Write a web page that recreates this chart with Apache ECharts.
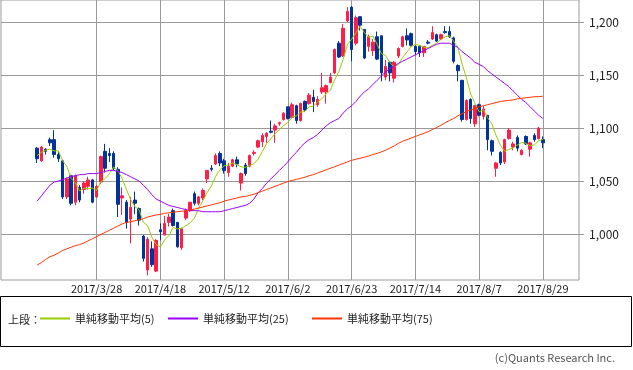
<!DOCTYPE html>
<html><head><meta charset="utf-8">
<script src="https://cdn.jsdelivr.net/npm/echarts@6/dist/echarts.min.js"></script>
<style>html,body{margin:0;padding:0;background:#fff}#c{width:633px;height:370px}</style>
</head><body><div id="c"></div>
<script>
const dates = ['2017/3/7','2017/3/8','2017/3/9','2017/3/10','2017/3/13','2017/3/14','2017/3/15','2017/3/16','2017/3/17','2017/3/21','2017/3/22','2017/3/23','2017/3/24','2017/3/27','2017/3/28','2017/3/29','2017/3/30','2017/3/31',
'2017/4/3','2017/4/4','2017/4/5','2017/4/6','2017/4/7','2017/4/10','2017/4/11','2017/4/12','2017/4/13','2017/4/14','2017/4/17','2017/4/18','2017/4/19','2017/4/20','2017/4/21','2017/4/24','2017/4/25','2017/4/26','2017/4/27','2017/4/28',
'2017/5/1','2017/5/2','2017/5/8','2017/5/9','2017/5/10','2017/5/11','2017/5/12','2017/5/15','2017/5/16','2017/5/17','2017/5/18','2017/5/19','2017/5/22','2017/5/23','2017/5/24','2017/5/25','2017/5/26','2017/5/29','2017/5/30','2017/5/31',
'2017/6/1','2017/6/2','2017/6/5','2017/6/6','2017/6/7','2017/6/8','2017/6/9','2017/6/12','2017/6/13','2017/6/14','2017/6/15','2017/6/16','2017/6/19','2017/6/20','2017/6/21','2017/6/22','2017/6/23','2017/6/26','2017/6/27','2017/6/28','2017/6/29','2017/6/30',
'2017/7/3','2017/7/4','2017/7/5','2017/7/6','2017/7/7','2017/7/10','2017/7/11','2017/7/12','2017/7/13','2017/7/14','2017/7/18','2017/7/19','2017/7/20','2017/7/21','2017/7/24','2017/7/25','2017/7/26','2017/7/27','2017/7/28','2017/7/31',
'2017/8/1','2017/8/2','2017/8/3','2017/8/4','2017/8/7','2017/8/8','2017/8/9','2017/8/10','2017/8/14','2017/8/15','2017/8/16','2017/8/17','2017/8/18','2017/8/21','2017/8/22','2017/8/23','2017/8/24','2017/8/25','2017/8/28','2017/8/29'];

const opens = [1081,1069,1080,1089,1089,1075,1069,1035,1055,1030,1044,1042,1045,1051,1035,1049,1078,1076,1076,1061,1034,1030,1014,1032,1024,998,966,986,965,1004,
999,1011,1022,1011,987,1015,1022,1038,1029,1034,1052,1062,1066,1076,1069,1058,1064,1070,1048,1065,1064,1076,1082,1087,1092,1097,1098,1104,1108,1120,
1110,1121,1107,1125,1123,1129,1122,1134,1134,1143,1152,1180,1168,1201,1214,1180,1205,1193,1177,1173,1186,1187,1148,1162,1147,1168,1177,1187,1189,1177,
1177,1171,1181,1184,1188,1184,1191,1191,1185,1159,1145,1108,1127,1104,1122,1111,1112,1088,1062,1077,1068,1090,1082,1091,1075,1092,1080,1093,1090,1089];
const closes = [1071,1082,1078,1086,1075,1071,1035,1052,1029,1055,1032,1048,1051,1030,1045,1073,1062,1074,1062,1028,1036,1011,1025,1029,1013,977,995,971,994,1002,
1010,1016,1008,988,1005,1022,1030,1029,1035,1041,1060,1061,1074,1067,1060,1064,1070,1066,1057,1057,1074,1077,1088,1093,1095,1096,1102,1105,1114,1109,
1122,1107,1123,1117,1131,1125,1127,1138,1140,1148,1174,1167,1194,1210,1174,1204,1197,1166,1186,1181,1165,1152,1158,1152,1162,1175,1186,1183,1178,1172,
1171,1177,1180,1190,1182,1188,1190,1186,1163,1154,1108,1126,1109,1121,1112,1118,1089,1078,1067,1067,1089,1098,1085,1081,1079,1085,1086,1089,1100,1086];
const lows = [1067,1068,1075,1083,1072,1068,1033,1033,1027,1027,1030,1038,1042,1029,1034,1047,1058,1068,1060,1016,1018,1005,991,1019,1008,974,961,969,964,994,
999,1007,1007,987,985,1013,1021,1027,1027,1032,1048,1059,1065,1064,1057,1054,1063,1063,1041,1055,1063,1074,1081,1082,1086,1095,1086,1102,1107,1108,
1109,1104,1106,1115,1122,1115,1120,1132,1123,1142,1151,1166,1167,1200,1163,1178,1192,1165,1172,1168,1164,1144,1145,1144,1143,1166,1176,1178,1177,1169,
1167,1167,1179,1183,1181,1183,1189,1185,1161,1144,1106,1107,1104,1101,1111,1108,1079,1074,1054,1065,1066,1089,1079,1078,1074,1084,1073,1087,1089,1081];
const highs = [1082,1083,1081,1091,1098,1078,1070,1053,1056,1056,1046,1050,1054,1052,1046,1074,1085,1081,1078,1063,1044,1032,1035,1040,1025,999,997,993,995,1010,
1017,1019,1024,1011,1006,1024,1030,1040,1036,1043,1060,1065,1076,1078,1071,1067,1071,1073,1058,1067,1075,1079,1089,1095,1096,1107,1104,1106,1115,1120,
1124,1122,1124,1126,1133,1136,1130,1152,1141,1152,1175,1182,1198,1214,1215,1206,1205,1193,1188,1184,1191,1187,1164,1163,1163,1176,1187,1194,1190,1178,
1178,1177,1183,1196,1189,1189,1196,1196,1186,1160,1145,1127,1128,1122,1123,1121,1112,1089,1068,1078,1090,1100,1087,1093,1080,1093,1087,1095,1101,1092];

const ma5 = [1074,1077,1079,1080,1078.4,1078.4,1069.0,1063.8,1052.4,1048.4,1040.6,1043.2,1043.0,1043.2,1041.2,1049.4,1052.2,1056.8,1063.2,1059.8,
1052.4,1042.2,1032.4,1025.8,1022.8,1011.0,1007.8,997.0,990.0,987.8,994.4,998.6,1006.0,1004.8,1005.4,1007.8,1010.6,1014.8,1024.2,1031.4,
1039.0,1045.2,1054.2,1060.6,1064.4,1065.2,1067.0,1065.4,1063.4,1062.8,1064.8,1066.2,1070.6,1077.8,1085.4,1089.8,1094.8,1098.2,1102.4,1105.2,
1110.4,1111.4,1115.0,1115.6,1120.0,1120.6,1124.6,1127.6,1132.2,1135.6,1145.4,1153.4,1164.6,1178.6,1183.8,1189.8,1195.8,1190.2,1185.4,1186.8,
1179.0,1170.0,1168.4,1161.6,1157.8,1159.8,1166.6,1171.6,1176.8,1178.8,1178.0,1176.2,1175.6,1178.0,1180.0,1183.4,1186.0,1187.2,1181.8,1176.2,
1160.2,1147.4,1132.0,1123.6,1115.2,1117.2,1109.8,1103.6,1092.8,1083.8,1078.0,1079.8,1081.2,1084.0,1086.4,1085.6,1083.2,1084.0,1087.8,1089.2];
const ma25 = [1031,1036,1041,1046,1049,1050,1051,1053,1054,1055,1056,1056,1057,1057,1057,1058,1059,1060,1060,1059,
1058,1056,1054,1052,1050,1046,1042,1037,1033,1031,1029,1027,1026,1025,1024,1023,1022,1022,1022,1021,
1021,1021,1021,1021,1022,1023,1024,1025,1026,1027,1029,1033,1039,1043,1048,1052,1056,1060,1064,1068,
1073,1077,1082,1086,1089,1091,1094,1098,1102,1105,1107,1109,1114,1118,1121,1125,1130,1134,1137,1141,
1145,1149,1153,1156,1158,1161,1163,1165,1167,1169,1171,1173,1175,1177,1179,1180,1180,1180,1178,1176,
1172,1169,1166,1162,1160,1158,1154,1151,1148,1145,1142,1139,1135,1131,1127,1124,1120,1116,1112,1109];
const ma75 = [970.7,973,976,978.5,980,982,984.5,986,987.5,989,990,991.5,993.5,995.5,997.5,999.5,1001.5,1003.5,1005.5,1007.5,
1009.5,1011,1011.5,1012.5,1013.5,1014.5,1016,1017,1018,1018.5,1019.5,1020,1020.5,1021,1021.5,1022,1022.5,1023.5,1024.5,1025.5,
1026.5,1027.5,1028.5,1029.5,1031,1032,1033,1034,1035,1035.5,1036.5,1037.5,1039,1040.5,1042,1043.5,1045,1046.5,1048,1049.5,
1050.5,1051.5,1052.5,1053.5,1055,1056,1057.5,1059,1060.5,1062,1063.5,1065,1066.5,1068,1069.5,1070.5,1071.5,1072.5,1073.5,1075,
1076,1077.5,1079,1081,1083,1085.5,1087.5,1089,1090.5,1092,1093.5,1095,1096.5,1098.5,1100.5,1102.5,1105,1107,1109,1111.5,
1113.5,1115.5,1117,1118.5,1120,1121,1122,1123,1124,1125,1125.5,1126,1126.5,1127.5,1128,1128.5,1129,1129.5,1129.5,1130];

const tickLabels = ['2017/3/28','2017/4/18','2017/5/12','2017/6/2','2017/6/23','2017/7/14','2017/8/7','2017/8/29'];
const yTicks = [1000,1050,1100,1150,1200];
const seriesNames = ['単純移動平均(5)','単純移動平均(25)','単純移動平均(75)'];

const PAD = 8;
const FONT = '"Noto Sans CJK JP","Noto Sans",sans-serif';
const padL = Array.from({length: PAD}, (_, i) => 'pl' + i);
const padR = Array.from({length: PAD}, (_, i) => 'pr' + i);
const cats = padL.concat(dates, padR);
const blank = Array(PAD).fill('-');
const candle = blank.concat(dates.map((d, i) => [opens[i], closes[i], lows[i], highs[i]]), blank);
const line = a => blank.concat(a, blank);
const isTick = (idx, v) => tickLabels.indexOf(v) >= 0;
const commas = v => String(v).replace(/\B(?=(\d{3})+(?!\d))/g, ',');

const chart = echarts.init(document.getElementById('c'), null, {renderer: 'canvas'});
const colors = ['#99cc00', '#9900ff', '#ff3300'];
const legendLeft = [40, 168, 312];
chart.setOption({
  animation: false,
  textStyle: {fontFamily: FONT},
  grid: {left: 1, right: 54, top: 0, bottom: 90, show: true, borderColor: '#999', borderWidth: 1, backgroundColor: 'transparent'},
  xAxis: {
    type: 'category', data: cats, boundaryGap: true,
    axisLine: {show: false}, axisTick: {show: false},
    axisLabel: {interval: isTick, color: '#222', fontSize: 11, margin: 3, fontFamily: FONT},
    splitLine: {show: true, interval: isTick, alignWithLabel: true, lineStyle: {color: '#999', width: 1}}
  },
  yAxis: {
    type: 'value', position: 'right', min: 956.6, max: 1220.75, scale: true,
    axisLine: {show: false},
    axisTick: {show: true, length: 5, inside: false, customValues: yTicks, lineStyle: {color: '#999'}},
    axisLabel: {customValues: yTicks, color: '#222', fontSize: 12, margin: 10, fontFamily: FONT, formatter: commas},
    splitLine: {show: true, lineStyle: {color: '#999', width: 1}}
  },
  legend: seriesNames.map((n, k) => ({
    data: [n], left: legendLeft[k], top: 313, padding: 0, icon: 'rect', itemWidth: 30, itemHeight: 2,
    selectedMode: false, textStyle: {fontSize: 11, color: '#222', fontFamily: FONT}
  })),
  graphic: [
    {type: 'rect', shape: {x: 0.5, y: 296.5, width: 631, height: 50}, style: {fill: 'none', stroke: '#000', lineWidth: 1}, silent: true},
    {type: 'text', x: 8, y: 320, style: {text: '上段：', fontSize: 11, fontFamily: FONT, fill: '#222', verticalAlign: 'middle'}},
    {type: 'text', x: 615, y: 358, style: {text: '(c)Quants Research Inc.', fontSize: 11, fontFamily: FONT, fill: '#555', align: 'right', verticalAlign: 'middle'}}
  ],
  series: [
    {type: 'candlestick', data: candle, barWidth: 3,
     itemStyle: {color: '#ff1e46', color0: '#00349a', borderColor: '#ff1e46', borderColor0: '#00349a', borderWidth: 1}},
    ...seriesNames.map((n, k) => ({
      name: n, type: 'line', data: line([ma5, ma25, ma75][k]), symbol: 'none', color: colors[k],
      lineStyle: {color: colors[k], width: 1}, itemStyle: {color: colors[k]}
    }))
  ]
});
</script></body></html>
